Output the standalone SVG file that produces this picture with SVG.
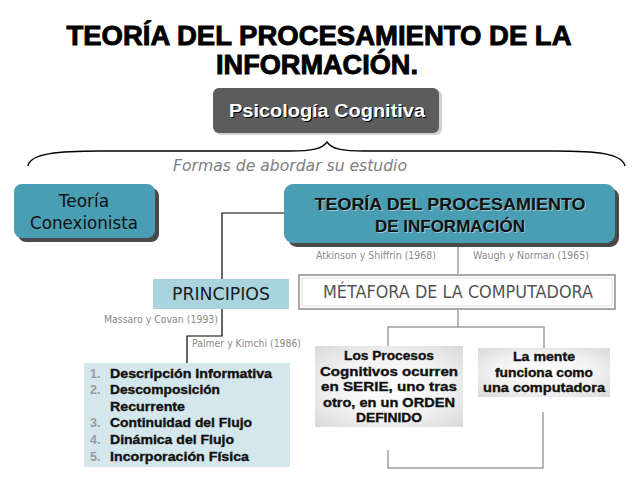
<svg xmlns="http://www.w3.org/2000/svg" width="638" height="479" viewBox="0 0 638 479">
<defs>
<radialGradient id="gbox" cx="50%" cy="50%" r="70%">
<stop offset="0" stop-color="#ffffff"/>
<stop offset="0.55" stop-color="#f2f2f2"/>
<stop offset="1" stop-color="#d9d9d9"/>
</radialGradient>
<style>
.ttl{font-family:"Liberation Sans",Arial,sans-serif;font-weight:bold;font-size:27px;fill:#000;stroke:#000;stroke-width:0.9;text-anchor:middle}
.teal{fill:#4a9eb3}
.shadow{fill:#4a4a4a}
.tah{font-family:"DejaVu Sans",Verdana,sans-serif}
.ref{font-family:"DejaVu Sans",Verdana,sans-serif;font-size:10.5px;fill:#8a8a8a}
.blk{stroke:#000;stroke-width:1.2;fill:none}
.gry{stroke:#a0a0a0;stroke-width:1.5;fill:none}
.lst{font-family:"Liberation Sans",Arial,sans-serif;font-weight:bold;font-size:12.5px;fill:#111;stroke:#111;stroke-width:0.35}
.num{font-family:"Liberation Sans",Arial,sans-serif;font-weight:bold;font-size:12.5px;fill:#9a9a9a}
.bx{font-family:"Liberation Sans",Arial,sans-serif;font-weight:bold;font-size:12.5px;fill:#111;stroke:#111;stroke-width:0.35;text-anchor:middle}
</style>
</defs>
<rect width="638" height="479" fill="#ffffff"/>

<g id="title">
<text class="ttl" x="319" y="45" textLength="505" lengthAdjust="spacingAndGlyphs">TEORÍA DEL PROCESAMIENTO DE LA</text>
<text class="ttl" x="317" y="74" textLength="202" lengthAdjust="spacingAndGlyphs">INFORMACIÓN.</text>
</g>

<g id="connectors">
<path d="M28,166 C30,153 60,151 100,151 L290,151 C312,151 322,149 327,142 C332,149 342,151 364,151 L555,151 C595,151 622,153 625,166" stroke="#000" stroke-width="1.3" fill="none"/>
<path class="blk" d="M284,213 H222 V280"/>
<path class="blk" d="M222,309 V336 H187 V363"/>
<path class="gry" d="M458,243 V275"/>
<path class="gry" d="M458,310 V327 H388 V346"/>
<path class="gry" d="M458,327 H544 V348"/>
<path class="gry" d="M388,450 V468 H543 V412"/>
</g>

<g id="psicologia">
<rect x="215" y="90" width="227" height="45" rx="6" fill="#d0d0d0"/>
<rect x="213" y="88" width="226" height="45" rx="6" fill="#5c5c5c"/>
<text x="328" y="118" text-anchor="middle" font-family="Liberation Sans,Arial,sans-serif" font-weight="bold" font-size="18" fill="#000" textLength="196" lengthAdjust="spacingAndGlyphs">Psicología Cognitiva</text>
<text x="327" y="117" text-anchor="middle" font-family="Liberation Sans,Arial,sans-serif" font-weight="bold" font-size="18" fill="#fff" textLength="196" lengthAdjust="spacingAndGlyphs">Psicología Cognitiva</text>
</g>

<g id="formas">
<text x="290" y="171" text-anchor="middle" font-family="DejaVu Sans,Verdana,sans-serif" font-style="italic" font-size="16" fill="#808080" textLength="234" lengthAdjust="spacingAndGlyphs">Formas de abordar su estudio</text>
</g>

<g id="conexionista">
<rect class="shadow" x="18" y="188" width="141" height="54" rx="8"/>
<rect class="teal" x="14" y="184" width="141" height="54" rx="8"/>
<text class="tah" x="84" y="207" text-anchor="middle" font-size="17" fill="#111">Teoría</text>
<text class="tah" x="84" y="229" text-anchor="middle" font-size="17" fill="#111" textLength="108" lengthAdjust="spacingAndGlyphs">Conexionista</text>
</g>

<g id="procesamiento">
<rect class="shadow" x="288" y="188" width="331" height="59" rx="9"/>
<rect class="teal" x="284" y="184" width="331" height="59" rx="9"/>
<text x="451" y="211" text-anchor="middle" font-family="Liberation Sans,Arial,sans-serif" font-weight="bold" font-size="17" fill="#9cc5cf" textLength="271" lengthAdjust="spacingAndGlyphs">TEORÍA DEL PROCESAMIENTO</text>
<text x="450" y="210" text-anchor="middle" font-family="Liberation Sans,Arial,sans-serif" font-weight="bold" font-size="17" fill="#111" textLength="271" lengthAdjust="spacingAndGlyphs">TEORÍA DEL PROCESAMIENTO</text>
<text x="451" y="233" text-anchor="middle" font-family="Liberation Sans,Arial,sans-serif" font-weight="bold" font-size="17" fill="#9cc5cf">DE INFORMACIÓN</text>
<text x="450" y="232" text-anchor="middle" font-family="Liberation Sans,Arial,sans-serif" font-weight="bold" font-size="17" fill="#111">DE INFORMACIÓN</text>
</g>

<g id="refs">
<text class="ref" x="316" y="259" textLength="120" lengthAdjust="spacingAndGlyphs">Atkinson y Shiffrin (1968)</text>
<text class="ref" x="473" y="259" textLength="116" lengthAdjust="spacingAndGlyphs">Waugh y Norman (1965)</text>
<text class="ref" x="104" y="323" textLength="114" lengthAdjust="spacingAndGlyphs">Massaro y Covan (1993)</text>
<text class="ref" x="192" y="347" textLength="109" lengthAdjust="spacingAndGlyphs">Palmer y Kimchi (1986)</text>
</g>

<g id="principios">
<rect x="153" y="279" width="136" height="30" fill="#a9d4de"/>
<text class="tah" x="221" y="300" text-anchor="middle" font-size="17" fill="#1a1a1a" textLength="98" lengthAdjust="spacingAndGlyphs">PRINCIPIOS</text>
</g>

<g id="metafora">
<rect x="299" y="275" width="316" height="34" fill="#ffffff" stroke="#a8a8a8" stroke-width="2"/>
<rect x="302" y="278" width="310" height="28" fill="none" stroke="#e2e2e2" stroke-width="1"/>
<text class="tah" x="458" y="298" text-anchor="middle" font-size="18" fill="#555" textLength="270" lengthAdjust="spacingAndGlyphs">MÉTAFORA DE LA COMPUTADORA</text>
</g>

<g id="lista">
<rect x="84" y="363" width="206" height="104" fill="#d3e7ec"/>
<text class="num" x="90" y="378">1.</text>
<text class="lst" x="110" y="378" textLength="162" lengthAdjust="spacingAndGlyphs">Descripción Informativa</text>
<text class="num" x="90" y="394">2.</text>
<text class="lst" x="110" y="394" textLength="110" lengthAdjust="spacingAndGlyphs">Descomposición</text>
<text class="lst" x="110" y="411" textLength="75" lengthAdjust="spacingAndGlyphs">Recurrente</text>
<text class="num" x="90" y="427">3.</text>
<text class="lst" x="110" y="427" textLength="142" lengthAdjust="spacingAndGlyphs">Continuidad del Flujo</text>
<text class="num" x="90" y="444">4.</text>
<text class="lst" x="110" y="444" textLength="124" lengthAdjust="spacingAndGlyphs">Dinámica del Flujo</text>
<text class="num" x="90" y="461">5.</text>
<text class="lst" x="110" y="461" textLength="139" lengthAdjust="spacingAndGlyphs">Incorporación Física</text>
</g>

<g id="serie">
<rect x="315" y="346" width="148" height="81" fill="url(#gbox)"/>
<text class="bx" x="389" y="360" textLength="90" lengthAdjust="spacingAndGlyphs">Los Procesos</text>
<text class="bx" x="389" y="376" textLength="138" lengthAdjust="spacingAndGlyphs">Cognitivos ocurren</text>
<text class="bx" x="389" y="391" textLength="136" lengthAdjust="spacingAndGlyphs">en SERIE, uno tras</text>
<text class="bx" x="389" y="407" textLength="132" lengthAdjust="spacingAndGlyphs">otro, en un ORDEN</text>
<text class="bx" x="389" y="422" textLength="66" lengthAdjust="spacingAndGlyphs">DEFINIDO</text>
</g>

<g id="mente">
<rect x="478" y="348" width="132" height="49" fill="url(#gbox)"/>
<text class="bx" x="544" y="361" textLength="62" lengthAdjust="spacingAndGlyphs">La mente</text>
<text class="bx" x="544" y="377" textLength="98" lengthAdjust="spacingAndGlyphs">funciona como</text>
<text class="bx" x="544" y="392" textLength="122" lengthAdjust="spacingAndGlyphs">una computadora</text>
</g>
</svg>
